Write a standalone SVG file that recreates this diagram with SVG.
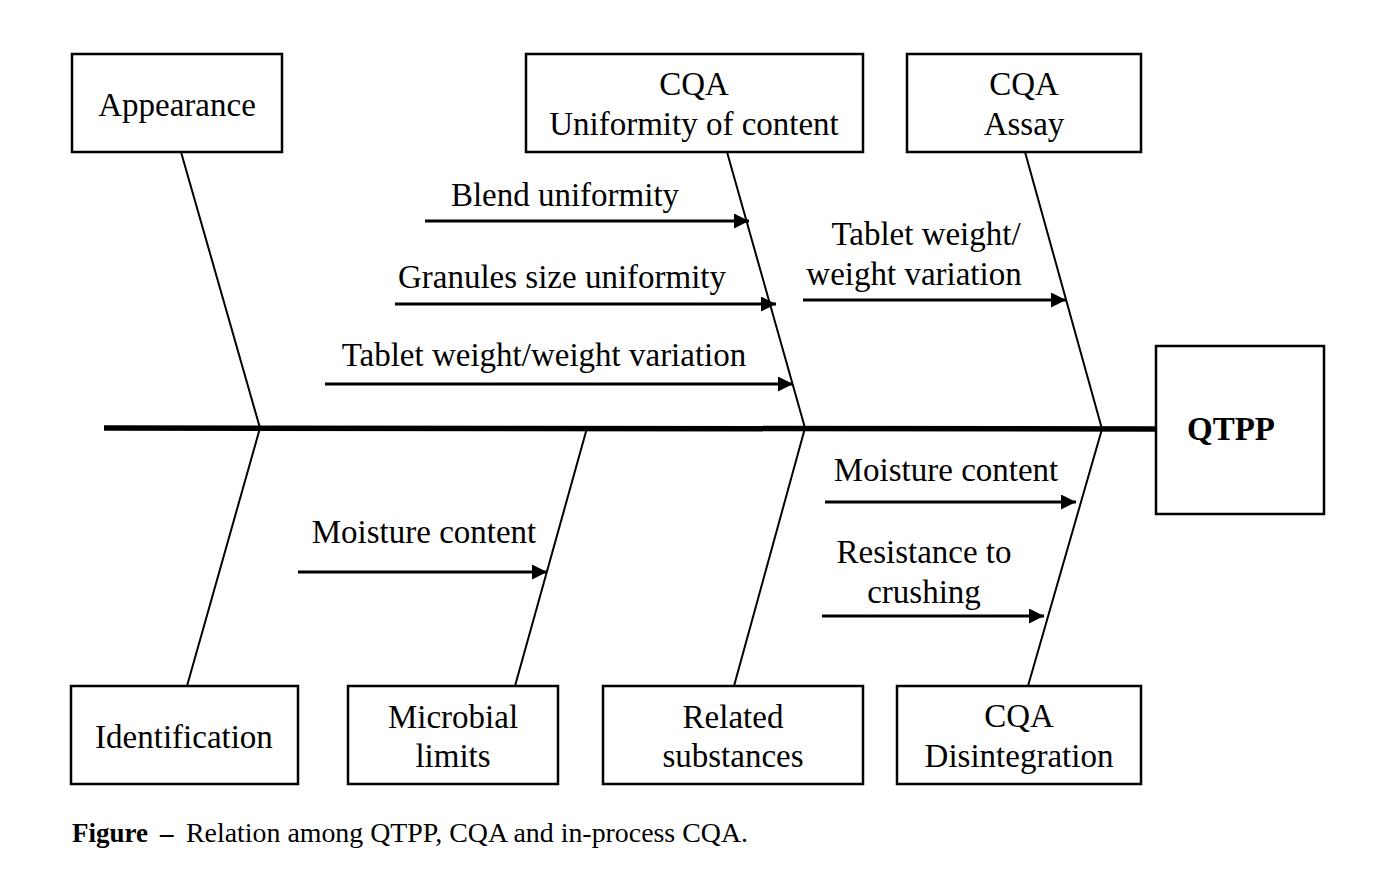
<svg xmlns="http://www.w3.org/2000/svg" width="1393" height="889" viewBox="0 0 1393 889">
<defs>
<style>
.box{fill:#fff;stroke:#000;stroke-width:2.5}
.t{font-family:"Liberation Serif","Times New Roman",serif;font-size:33px;fill:#000;text-anchor:middle}
.b{font-weight:bold}
.bone{stroke:#000;stroke-width:2;fill:none}
.arr{stroke:#000;stroke-width:3;fill:none;marker-end:url(#ah)}
.cap{font-family:"Liberation Serif","Times New Roman",serif;font-size:27px;fill:#000}
</style>
<marker id="ah" viewBox="0 0 10 10" refX="10" refY="5" markerWidth="6" markerHeight="5" markerUnits="strokeWidth" orient="auto">
<path d="M0,0 L10,5 L0,10 Z" fill="#000"/>
</marker>
</defs>
<rect width="1393" height="889" fill="#fff"/>
<g id="connectors">
<line x1="104" y1="428" x2="1158" y2="429" stroke="#000" stroke-width="5.5"/>
<polyline class="bone" points="181,152 260,428 187,686"/>
<polyline class="bone" points="727,152 805,428 734,686"/>
<polyline class="bone" points="1025,152 1102,429 1028,686"/>
<line class="bone" x1="587" y1="428" x2="515" y2="686"/>
<line class="arr" x1="425" y1="221" x2="749" y2="221"/>
<line class="arr" x1="395" y1="304" x2="776" y2="304"/>
<line class="arr" x1="325" y1="384" x2="793" y2="384"/>
<line class="arr" x1="803" y1="300" x2="1066" y2="300"/>
<line class="arr" x1="825" y1="502" x2="1076" y2="502"/>
<line class="arr" x1="822" y1="616" x2="1044" y2="616"/>
<line class="arr" x1="298" y1="572" x2="547" y2="572"/>
</g>
<g id="labels">
<text class="t" x="565" y="206">Blend uniformity</text>
<text class="t" x="562" y="288">Granules size uniformity</text>
<text class="t" x="544" y="366">Tablet weight/weight variation</text>
<text class="t" x="926" y="245">Tablet weight/</text>
<text class="t" x="914" y="285">weight variation</text>
<text class="t" x="946" y="481">Moisture content</text>
<text class="t" x="924" y="563">Resistance to</text>
<text class="t" x="924" y="603">crushing</text>
<text class="t" x="424" y="543">Moisture content</text>
</g>
<g id="appearance"><rect class="box" x="72" y="54" width="210" height="98"/><text class="t" x="177" y="116">Appearance</text></g>
<g id="uniformity"><rect class="box" x="526" y="54" width="337" height="98"/><text class="t" x="694" y="95">CQA</text><text class="t" x="694" y="135">Uniformity of content</text></g>
<g id="assay"><rect class="box" x="907" y="54" width="234" height="98"/><text class="t" x="1024" y="95">CQA</text><text class="t" x="1024" y="135">Assay</text></g>
<g id="qtpp"><rect class="box" x="1156" y="346" width="168" height="168"/><text class="t b" x="1231" y="440">QTPP</text></g>
<g id="identification"><rect class="box" x="71" y="686" width="227" height="98"/><text class="t" x="184" y="748">Identification</text></g>
<g id="microbial"><rect class="box" x="348" y="686" width="210" height="98"/><text class="t" x="453" y="728">Microbial</text><text class="t" x="453" y="767">limits</text></g>
<g id="related"><rect class="box" x="603" y="686" width="260" height="98"/><text class="t" x="733" y="728">Related</text><text class="t" x="733" y="767">substances</text></g>
<g id="disintegration"><rect class="box" x="897" y="686" width="244" height="98"/><text class="t" x="1019" y="727">CQA</text><text class="t" x="1019" y="767">Disintegration</text></g>
<g id="caption">
<text class="cap" x="72" y="842" font-weight="bold">Figure</text>
<text class="cap" x="160" y="842" font-weight="bold">–</text>
<text class="cap" x="186" y="842" textLength="562" lengthAdjust="spacingAndGlyphs">Relation among QTPP, CQA and in-process CQA.</text>
</g>
</svg>
